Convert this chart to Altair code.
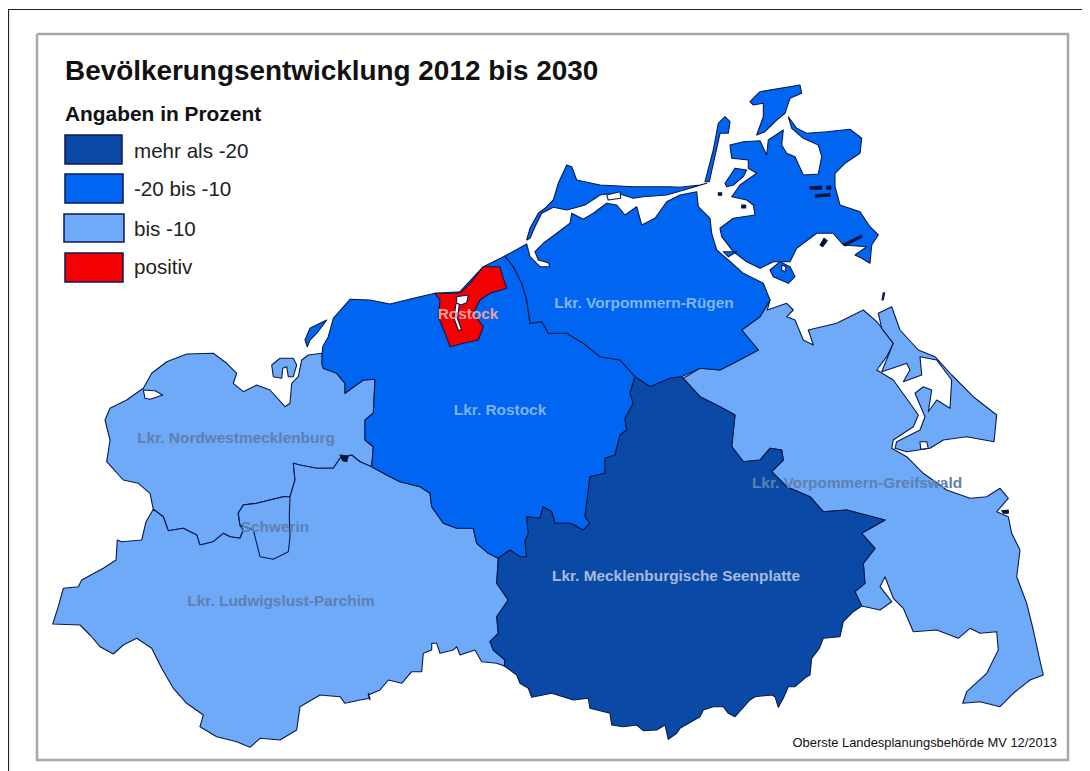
import altair as alt

# ---- map geometry; each list is read in a crop, (ox, oy) is its origin, units 1/3 px
def Z(ox, oy, pts):
    return [[round(ox + a / 3, 1), round(oy + b / 3, 1)] for a, b in pts]

def closed(r):
    return r + [r[0]]

# shared boundaries
nw_lu = Z(40, 340, [(995,380),(960,365),(935,345),(900,355),(880,385),(830,385),(780,375),(760,370),(765,420),(750,470),(730,470),(690,480),(650,490),(610,495),(595,520),(600,555),(610,570),(600,595),(570,590),(550,580),(520,605),(480,615),(470,585),(430,565),(385,572),(370,530),(340,508)])
nw_west = Z(40, 340, [(330,460),(295,430),(250,420),(200,365),(210,300),(195,240),(210,205),(260,180),(310,145),(335,100),(380,65),(440,42),(520,40),(560,70),(590,100),(580,130),(610,155),(650,135),(690,150),(735,200),(750,190),(755,130),(775,110),(785,60),(805,45),(845,40)])
nw_ro = Z(40, 340, [(850,85),(890,100),(915,130),(915,160),(935,145),(970,120),(1005,118),(1000,220),(975,240),(975,300),(1000,320)])
lu_west = Z(40, 340, [(318,545),(305,600),(245,605),(232,600),(228,660),(190,685),(125,720),(115,740),(70,745),(55,800),(38,852),(120,855),(150,885),(180,920),(220,942),(250,915),(290,895),(335,925),(365,985),(400,1045),(440,1090),(490,1125),(480,1160),(530,1190),(590,1205),(630,1222),(660,1195),(720,1200),(770,1170),(780,1100),(840,1065),(900,1070),(915,1090),(960,1080),(990,1075),(985,1060)])
lu_south = Z(360, 360, [(30,1020),(25,1005),(60,990),(85,960),(125,970),(155,935),(185,935),(190,880),(215,870),(215,850),(230,850),(240,880),(280,870),(290,860),(300,885),(345,870),(365,905),(410,910),(433,918)])
lu_ms = Z(360, 360, [(435,900),(400,870),(390,845),(415,820),(410,770),(445,720),(410,670),(415,595)])
lu_ro = Z(360, 360, [(385,580),(350,550),(340,505),(290,505),(250,490),(215,440),(210,400),(180,380),(120,365),(80,345),(35,320)])
ro_ms = Z(360, 360, [(825,50),(810,100),(820,130),(795,175),(800,210),(780,225),(765,285),(735,295),(735,340),(690,350),(680,430),(675,470),(690,490),(670,510),(630,490),(585,490),(575,455),(550,440),(540,475),(500,470),(505,520),(495,545),(500,590),(480,590),(450,570),(415,595)])
ro_coast = Z(300, 70, [(65,880),(68,830),(85,800),(100,745),(150,688),(210,690),(270,702),(340,685),(405,670),(480,665),(550,590),(615,558)])
ro_vr = Z(300, 70, [(640,590),(665,640),(680,690),(690,760),(725,755),(745,790),(800,790),(850,820),(900,860)]) + Z(360, 360, [(780,0),(825,50)])
vr_ms = Z(360, 360, [(870,80),(930,55),(965,50)])
vr_vg = Z(680, 300, [(60,205),(120,210),(160,190),(235,150),(185,90),(240,50),(270,0)])
vr_coast = Z(300, 70, [(680,522),(690,560),(720,590),(750,590),(745,578),(715,570),(705,545),(730,520),(770,490),(810,460),(815,430),(850,448),(880,430),(900,415)]) + Z(600, 70, [(20,400),(50,405),(75,435),(110,410),(125,465),(165,445),(200,395),(240,375),(290,365),(295,410),(330,445),(335,490),(350,540),(385,570),(430,610),(490,640),(510,690)])
ms_vg = Z(680, 300, [(10,235),(60,290),(120,320),(165,345),(155,440),(190,485),(240,480),(270,445),(305,450),(310,480),(275,515),(320,560),(390,590),(430,635),(500,630),(615,660),(545,700),(585,745),(550,790),(555,850),(525,875),(545,918)])
ms_south = Z(680, 300, [(520,935),(490,965),(480,1010),(430,1015),(418,1045),(395,1075),(390,1125),(380,1130),(345,1160),(325,1160),(310,1195),(295,1222),(285,1190),(275,1185),(225,1190),(210,1200),(165,1250),(145,1240),(130,1220),(100,1220),(70,1230),(60,1250),(0,1285)]) + Z(360, 360, [(950,1120),(925,1138),(915,1095),(890,1110),(850,1112),(830,1095),(790,1100),(755,1095),(750,1060),(690,1045),(685,1015),(640,1020),(575,1000),(515,1012),(505,985),(480,970),(470,945),(433,918)])
vg_coast = Z(680, 300, [(262,30),(320,10),(340,30),(320,50),(345,60),(370,120),(400,135),(385,90),(470,70),(550,30),(590,65),(610,90),(640,130),(620,170),(590,210),(640,240),(690,310),(715,345),(700,380),(640,420),(635,445),(680,470),(730,520),(800,570),(870,595),(920,590),(960,565),(985,595),(950,635),(985,650),(995,700),(1020,750),(1010,830),(1040,910),(1060,990),(1075,1060),(1090,1125),(1050,1140),(1000,1180),(960,1220),(900,1205),(848,1210),(860,1175),(920,1120),(955,1050),(950,995),(900,1000),(870,985),(835,1015),(770,990),(700,995),(670,925),(640,895),(615,830),(600,860),(635,905),(600,930),(545,918)])

nwm = nw_lu + nw_west + nw_ro
lup = nw_lu + lu_west + lu_south + lu_ms + lu_ro
lro = ro_coast + ro_vr + ro_ms + lu_ro + nw_ro[::-1]
vr = ro_coast[-1:] + vr_coast + vr_vg[::-1] + vr_ms[::-1] + ro_vr[::-1]
mse = ro_ms + lu_ms[::-1] + ms_south[::-1] + ms_vg[::-1] + vr_ms[::-1]
vg = vr_vg + vg_coast + ms_vg[::-1]
schwerin = Z(40, 340, [(750,470),(730,470),(690,480),(650,490),(610,495),(595,520),(600,555),(640,570),(650,610),(660,650),(700,658),(745,635),(750,590),(748,530)])
poel = Z(40, 340, [(695,75),(720,55),(760,55),(770,75),(760,110),(745,110),(740,80),(728,85),(725,115),(700,110)])
usedom = Z(680, 300, [(595,40),(635,20),(660,90),(715,150),(765,170),(815,225),(880,290),(950,345),(942,425),(860,410),(790,420),(750,445),(680,455),(645,445),(650,425),(720,390),(735,350),(705,280),(730,260),(755,270),(745,335),(770,300),(810,325),(815,240),(770,180),(720,170),(725,225),(670,245),(690,210),(680,190),(650,200),(605,215),(640,130),(605,85)])
darss = Z(300, 70, [(680,510),(690,475),(715,430),(735,415),(760,390),(775,340),(800,285),(815,290),(830,330),(900,345)]) + Z(600, 70, [(100,350),(210,350),(240,352),(300,345),(320,340),(270,355),(200,375),(130,380),(100,385),(60,372),(20,372),(0,375)]) + Z(300, 70, [(855,405),(820,415),(800,420),(760,412),(725,430),(705,470),(690,505)])
wismar_strip = Z(300, 70, [(15,810),(30,775),(80,750),(50,790),(30,810),(22,830)])
ruegen = Z(600, 70, [(390,225),(430,215),(480,212),(500,255),(505,210),(550,180),(545,225),(560,250),(585,260),(610,315),(655,312),(665,260),(655,225),(610,205),(575,175),(565,140),(590,175),(620,190),(680,185),(750,178),(785,205),(780,250),(735,280),(705,310),(705,350),(720,405),(780,425),(810,470),(835,495),(815,525),(810,580),(785,565),(765,555),(800,530),(730,525),(700,490),(650,490),(590,535),(570,575),(520,575),(480,595),(440,575),(400,545),(365,500),(360,475),(400,445),(465,435),(460,405),(440,390),(395,380),(420,345),(470,310),(445,295),(445,270),(395,265)])
wittow = Z(600, 70, [(450,95),(480,65),(600,45),(605,70),(570,85),(555,130),(530,150),(495,185),(470,195),(490,140),(490,100),(460,105)])
hiddensee = Z(600, 70, [(340,240),(355,160),(375,140),(390,155),(385,190),(360,190),(350,235),(328,335),(315,335)])
ummanz = Z(600, 70, [(375,340),(405,295),(440,300),(430,320),(400,345),(380,350)])
koos = Z(600, 70, [(510,600),(540,575),(570,590),(585,620),(565,640),(520,620)])
insel_a = Z(600, 70, [(370,545),(410,545),(385,560)])
hst = Z(300, 70, [(405,670),(470,670),(485,665),(510,640),(550,590),(600,590),(610,625),(620,655),(570,670),(540,690),(520,730),(550,770),(535,810),(490,820),(450,830),(435,790),(415,740),(420,690)])

# water and small specks drawn above the land
wasser = [
    Z(40, 340, [(310,150),(345,152),(368,165),(330,178),(315,175)]),
    Z(300, 70, [(470,680),(505,675),(500,698),(482,705),(470,700)]),
    Z(300, 70, [(468,700),(478,703),(472,745),(485,780),(475,780),(462,745)]),
    Z(600, 70, [(20,375),(60,365),(62,385),(25,390)]),
    Z(600, 70, [(545,585),(558,590),(555,605),(545,600)]),
    Z(680, 300, [(720,425),(740,425),(745,445),(722,448)]),
]
flecken = [
    Z(600, 70, [(355,368),(365,368),(365,376),(355,376)]),
    Z(600, 70, [(425,405),(437,405),(437,414),(425,414)]),
    Z(600, 70, [(630,350),(665,348),(665,358),(630,358)]),
    Z(600, 70, [(680,348),(692,348),(692,358),(680,358)]),
    Z(600, 70, [(645,375),(690,370),(690,378),(645,382)]),
    Z(600, 70, [(660,525),(672,505),(682,512),(668,530)]),
    Z(600, 70, [(730,522),(785,495),(785,502),(735,528)]),
    Z(600, 70, [(846,690),(850,668),(854,668),(850,690)]),
    Z(680, 300, [(965,632),(985,630),(985,640),(970,640)]),
    Z(40, 340, [(900,345),(925,348),(920,365),(908,362)]),
]

# legend boxes and frames
legend_boxes = [
    ("dunkel", [[65,135],[122,135],[122,164],[65,164]]),
    ("mittel", [[65,174],[123,174],[123,203],[65,203]]),
    ("hell", [[64,214],[124,214],[124,242],[64,242]]),
    ("rot", [[65,253],[123,253],[123,282],[65,282]]),
]
outer_frame = [[8.5, 771], [8.5, 9.5], [1082, 9.5]]
inner_frame = [[37, 34], [1068, 34], [1068, 760], [37, 760], [37, 34]]
# invisible diagonal whose bounding box is exactly the drawing area
extent_line = [[8, 8], [1082, 771]]

# ---- categories
class_names = ["dunkel", "mittel", "hell", "rot", "wasser", "fleck"]
class_fill = ["#0A4AA6", "#0066F2", "#6EAAF8", "#F50000", "#FFFFFF", "#050F30"]

areas = [
    ("hell", [nwm]), ("hell", [lup]), ("hell", [schwerin]), ("hell", [poel]),
    ("hell", [vg]), ("hell", [usedom]),
    ("mittel", [lro]), ("mittel", [vr]), ("mittel", [darss]), ("mittel", [wismar_strip]),
    ("mittel", [ruegen]), ("mittel", [wittow]), ("mittel", [hiddensee]), ("mittel", [ummanz]),
    ("mittel", [koos]), ("mittel", [insel_a]),
    ("dunkel", [mse]),
    ("rot", [hst]),
]

def feat(kl, rings):
    return {"type": "Feature", "properties": {"klasse": kl},
            "geometry": {"type": "Polygon", "coordinates": [closed(r) for r in rings]}}

def line(coords):
    return {"type": "Feature", "properties": {}, "geometry": {"type": "LineString", "coordinates": coords}}

features = [feat(k, r) for k, r in areas]
features += [feat("wasser", [w]) for w in wasser]
features += [feat("fleck", [f]) for f in flecken]
box_features = [feat(k, [b]) for k, b in legend_boxes]

texts_x = [65, 65, 134, 134, 134, 134, 468, 500, 236, 275, 281, 644, 676, 857, 1057]
texts_y = [72, 115, 152, 190, 230, 268, 314, 410, 438, 527, 601, 303, 576, 483, 743]
texts = ["Bevölkerungsentwicklung 2012 bis 2030", "Angaben in Prozent", "mehr als -20", "-20 bis -10", "bis -10", "positiv",
         "Rostock", "Lkr. Rostock", "Lkr. Nordwestmecklenburg", "Schwerin", "Lkr. Ludwigslust-Parchim",
         "Lkr. Vorpommern-Rügen", "Lkr. Mecklenburgische Seenplatte", "Lkr. Vorpommern-Greifswald",
         "Oberste Landesplanungsbehörde MV 12/2013"]
text_size = [27.9, 20.9, 20.6, 20.6, 20.6, 20.6, 15.4, 15.4, 15.4, 15.4, 15.4, 15.4, 15.4, 15.4, 12.9]
text_bold = [700, 700, 400, 400, 400, 400, 700, 700, 700, 700, 700, 700, 700, 700, 400]
text_color = ["#111111", "#111111", "#222222", "#222222", "#222222", "#222222", "#E8A0A0", "#7FB0F0", "#5F7FB0", "#5F7FB0", "#5F7FB0", "#80B4F4", "#A6BCDC", "#5F7FB0", "#111111"]
text_align = ["left", "left", "left", "left", "left", "left", "center", "center", "center", "center", "center", "center", "center", "center", "right"]

text_rows = [dict(t=a, lon=b, lat=c, size=d, w=e, col=f, al=g) for a, b, c, d, e, f, g in
             zip(texts, texts_x, texts_y, text_size, text_bold, text_color, text_align)]

proj = dict(type="identity")
fill_scale = alt.Scale(domain=class_names, range=class_fill)

land = alt.Chart(alt.Data(values=features)).mark_geoshape(
    stroke="#081A4E", strokeWidth=1.1, strokeJoin="round"
).encode(fill=alt.Color("properties.klasse:N", scale=fill_scale, legend=None)).project(**proj)

boxes = alt.Chart(alt.Data(values=box_features)).mark_geoshape(
    stroke="#0A1A50", strokeWidth=1.5
).encode(fill=alt.Color("properties.klasse:N", scale=fill_scale, legend=None)).project(**proj)

extent = alt.Chart(alt.Data(values=[line(extent_line)])).mark_geoshape(
    filled=False, strokeOpacity=0).project(**proj)
frame_a = alt.Chart(alt.Data(values=[line(outer_frame)])).mark_geoshape(
    filled=False, stroke="#222222", strokeWidth=1.2).project(**proj)
frame_b = alt.Chart(alt.Data(values=[line(inner_frame)])).mark_geoshape(
    filled=False, stroke="#A8A8A8", strokeWidth=2.5).project(**proj)

layers = [extent, frame_a, frame_b, land, boxes]
for al in ["left", "center", "right"]:
    for w in [400, 700]:
        rows = [r for r in text_rows if r["al"] == al and r["w"] == w]
        if not rows:
            continue
        layers.append(alt.Chart(alt.Data(values=rows)).mark_text(
            align=al, baseline="middle", font="Liberation Sans", fontWeight=w
        ).encode(
            longitude="lon:Q", latitude="lat:Q", text="t:N",
            size=alt.Size("size:Q", scale=None, legend=None),
            color=alt.Color("col:N", scale=None, legend=None),
        ).project(**proj))

chart = alt.layer(*layers).properties(
    width=1074, height=763, background="white", padding=0,
    autosize=alt.AutoSizeParams(type="none"),
).configure_view(stroke=None)

chart.save("out.html", embed_options={"renderer": "svg", "actions": False})
